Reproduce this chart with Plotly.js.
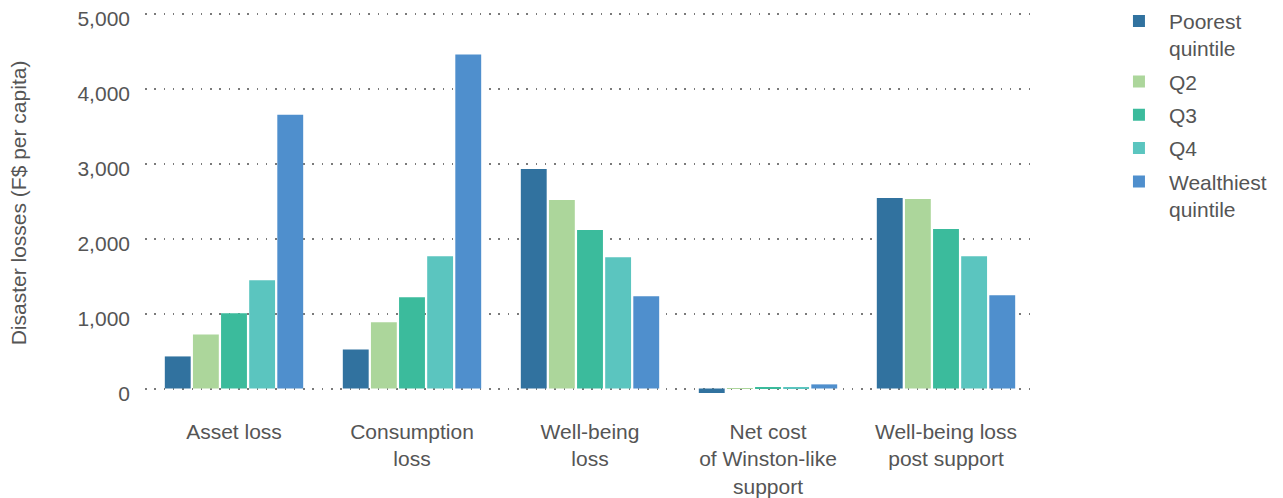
<!DOCTYPE html>
<html>
<head>
<meta charset="utf-8">
<script src="https://cdn.plot.ly/plotly-3.0.1.min.js"></script>
<style>html,body{margin:0;padding:0;background:#fff;}#chart{width:1283px;height:498px;}</style>
</head>
<body>
<div id="chart"></div>
<script>
const categories = ["Asset loss", "Consumption<br>loss", "Well-being<br>loss", "Net cost<br>of Winston-like<br>support", "Well-being loss<br>post support"];
const seriesNames = ["Poorest<br>quintile", "Q2", "Q3", "Q4", "Wealthiest<br>quintile"];
const poorest    = [428, 522, 2930, -60, 2542];
const q2         = [722, 883, 2515, 5, 2528];
const q3         = [1003, 1217, 2114, 15, 2127];
const q4         = [1445, 1766, 1752, 15, 1766];
const wealthiest = [3652, 4455, 1231, 55, 1244];
const colors = ["#31729F", "#ACD69B", "#3BBB9C", "#5BC5BF", "#4F8FCD"];
const yTickVals = [0, 1000, 2000, 3000, 4000, 5000];
const yTickText = ["0", "1,000", "2,000", "3,000", "4,000", "5,000"];

const seriesData = [poorest, q2, q3, q4, wealthiest];
const traces = seriesData.map((vals, i) => ({
  type: "bar",
  name: seriesNames[i],
  x: categories,
  y: vals,
  marker: {color: colors[i]},
  legendgroup: "g" + i,
  hoverinfo: "y+name"
}));

const font = "'Liberation Sans', Arial, sans-serif";
const FS = 21;
const layout = {
  width: 1283, height: 498,
  margin: {l: 145, r: 248, t: 10, b: 102, autoexpand: false},
  paper_bgcolor: "#fff", plot_bgcolor: "#fff",
  barmode: "group",
  bargap: 0.21,
  bargroupgap: 0.08,
  font: {family: font, size: FS, color: "#555"},
  showlegend: true,
  legend: {
    x: 1.0831, xanchor: "left", y: 1.024, yanchor: "top",
    font: {family: font, size: FS, color: "#555"},
    valign: "top",
    itemwidth: 50,
    traceorder: "grouped",
    tracegroupgap: 3,
    bgcolor: "rgba(0,0,0,0)"
  },
  xaxis: {
    showgrid: false, zeroline: false, showline: false,
    ticks: "", ticklabelstandoff: 21,
    tickfont: {family: font, size: FS, color: "#555"},
    automargin: false
  },
  yaxis: {
    range: [-100, 5050],
    tickvals: yTickVals, ticktext: yTickText,
    showgrid: true, gridcolor: "#7a7a7a", gridwidth: 1.5, griddash: "1.5px,7.8px",
    zeroline: false, showline: false, ticks: "",
    ticklabelstandoff: 14,
    ticklabelshift: 5,
    tickfont: {family: font, size: FS, color: "#555"},
    title: {text: "Disaster losses (F$ per capita)", font: {family: font, size: FS, color: "#555"}, standoff: 45},
    automargin: false
  }
};

Plotly.newPlot("chart", traces, layout, {displayModeBar: false, responsive: false});
</script>
</body>
</html>
